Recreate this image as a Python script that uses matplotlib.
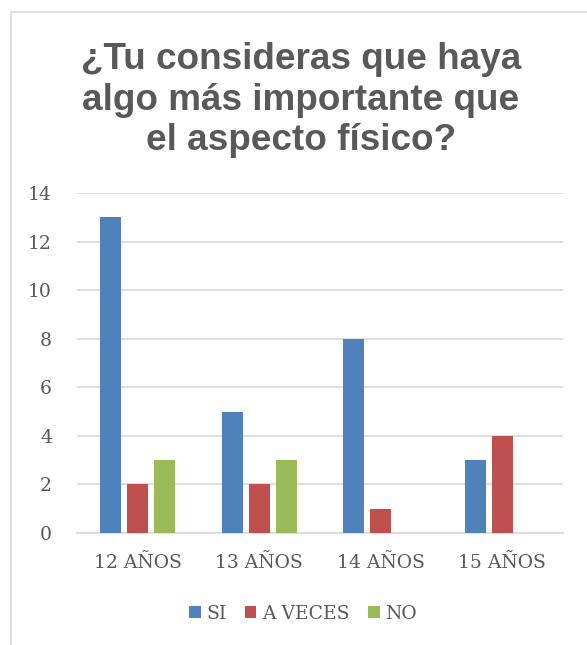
import matplotlib
matplotlib.use("Agg")
import matplotlib.pyplot as plt
from matplotlib.patches import Rectangle, Patch
import numpy as np

categories = ["12 AÑOS", "13 AÑOS", "14 AÑOS", "15 AÑOS"]
series_names = ["SI", "A VECES", "NO"]
si = [13, 5, 8, 3]
a_veces = [2, 2, 1, 4]
no = [3, 3, 0, 0]
yticks = [0, 2, 4, 6, 8, 10, 12, 14]
title = "¿Tu consideras que haya\nalgo más importante que\nel aspecto físico?"

colors = ["#4F81BD", "#C0504D", "#9BBB59"]
text_color = "#595959"
grid_color = "#D9D9D9"
serif = ["DejaVu Serif", "Liberation Serif"]

W, H = 587, 645
fig = plt.figure(figsize=(W / 100, H / 100), dpi=100)
fig.patch.set_facecolor("white")

# chart frame
fig.patches.append(Rectangle((11 / W, -0.1), 1.2, 1 - 12 / H + 0.1,
                             transform=fig.transFigure, fill=False,
                             edgecolor="#D9D9D9", linewidth=1.2))

ax = fig.add_axes([77 / W, 1 - 533 / H, (563 - 77) / W, (533 - 193) / H])
x = np.arange(len(categories))
bw = 0.173
step = 0.222
for i, (vals, name) in enumerate(zip([si, a_veces, no], series_names)):
    ax.bar(x + (i - 1) * step, vals, width=bw, color=colors[i], label=name, zorder=3)

ax.set_xlim(-0.5, len(categories) - 0.5)
ax.set_ylim(0, 14)
ax.set_yticks(yticks)
ax.set_xticks(x)
ax.set_xticklabels(categories)
ax.grid(axis="y", color=grid_color, linewidth=1.2, zorder=0)
for s in ["top", "right", "left"]:
    ax.spines[s].set_visible(False)
ax.spines["bottom"].set_color(grid_color)
ax.spines["bottom"].set_linewidth(1.2)
ax.tick_params(axis="both", length=0, colors=text_color, labelsize=13.5)
ax.tick_params(axis="y", pad=18)
ax.tick_params(axis="x", pad=15)
for lbl in ax.get_xticklabels() + ax.get_yticklabels():
    lbl.set_family(serif)

fig.text(301 / W, 1 - 100 / H, title, ha="center", va="center",
         fontsize=26.6, fontweight="bold", color=text_color,
         family=["Liberation Sans", "DejaVu Sans"], linespacing=1.19)

handles = [Patch(facecolor=c, edgecolor="none") for c in colors]
leg = fig.legend(handles, series_names, loc="center", bbox_to_anchor=(303 / W, 1 - 614 / H),
                 ncol=3, frameon=False, handlelength=0.6, handleheight=0.6,
                 handletextpad=0.3, columnspacing=1.0,
                 prop={"family": serif, "size": 13.5})
for t in leg.get_texts():
    t.set_color(text_color)

fig.savefig("out.png", dpi=100, facecolor="white")
